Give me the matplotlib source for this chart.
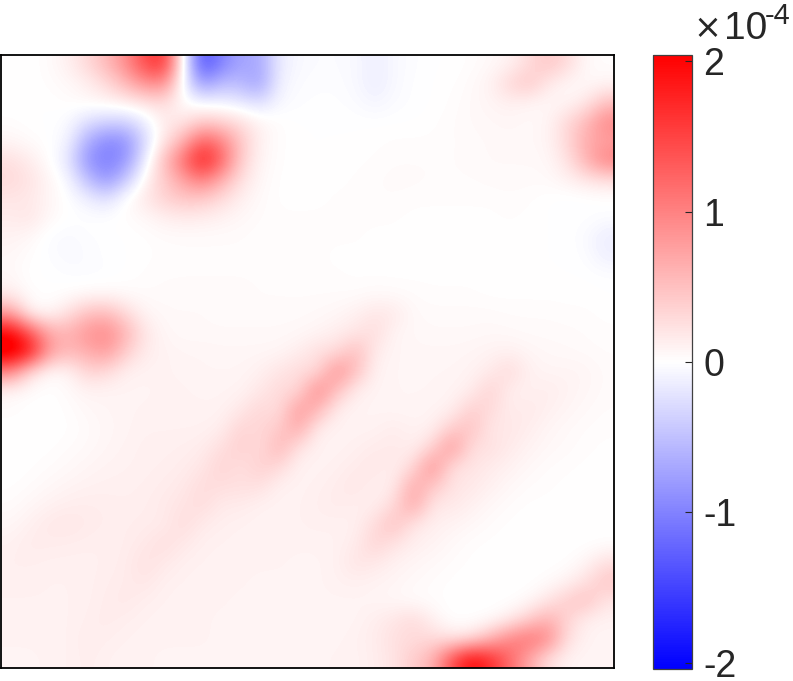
import numpy as np
import matplotlib
matplotlib.use("Agg")
import matplotlib.pyplot as plt

plt.rcParams['font.family'] = ['Liberation Sans', 'DejaVu Sans']

W, H = 793, 681

# values, in units of 1e-6 (rows top to bottom)
field = [
    [0, 0, 3, 12, 30, 55, 90, 145, 165, 0, -140, -100, -70, -70, -15, -5, -3, -3, -5, -14, -5, -2, 0, 0, 2, 5, 10, 28, 45, 30, 5, 2],
    [0, 0, 2, 5, 12, 28, 55, 85, 90, -5, -80, -50, -55, -75, -10, -3, -2, -2, -5, -14, -5, -1, 0, 1, 4, 10, 32, 45, 18, 6, 5, 8],
    [0, 0, 0, 2, 5, 8, 12, 20, 28, 2, -5, -8, -15, -25, -5, -2, -1, -1, -3, -8, -3, -1, 0, 2, 5, 8, 12, 8, 6, 8, 18, 50],
    [2, 0, 0, -3, -25, -35, -35, -15, 15, 20, 40, 35, 25, 10, 2, 0, 0, 0, 0, 0, 0, 0, 1, 3, 5, 6, 7, 5, 8, 30, 55, 95],
    [8, 3, 0, -8, -65, -95, -90, -30, 20, 60, 130, 100, 45, 10, 2, 0, 0, 0, 0, 1, 2, 2, 2, 3, 4, 5, 6, 6, 8, 30, 65, 75],
    [25, 15, 2, -18, -85, -105, -85, -15, 50, 115, 185, 125, 40, 8, 2, 0, 0, 0, 1, 2, 3, 3, 3, 3, 4, 5, 5, 5, 6, 22, 60, 100],
    [30, 22, 8, -5, -50, -85, -45, 8, 40, 75, 105, 65, 25, 6, 1, 0, 1, 1, 2, 3, 4, 4, 3, 3, 3, 4, 4, 4, 4, 10, 20, 25],
    [20, 18, 8, 0, -12, -25, 2, 18, 35, 45, 42, 28, 12, 4, 1, 1, 1, 2, 2, 3, 3, 2, 2, 2, 2, 2, 3, 2, 0, -2, -2, 0],
    [15, 20, 6, 0, 0, 0, 2, 5, 12, 15, 14, 10, 6, 3, 2, 2, 2, 2, 2, 2, 2, 1, 1, 1, 1, 1, 2, 1, 0, -1, 0, -2],
    [10, 6, -3, -5, -2, -1, 0, 1, 3, 3, 3, 3, 3, 2, 2, 2, 2, 2, 2, 1, 1, 0, 0, 0, 0, 0, 1, 0, 0, 0, -4, -15],
    [6, 2, -2, -5, -3, -1, 0, 1, 2, 3, 3, 3, 3, 3, 2, 2, 2, 1, 1, 1, 0, 0, 0, 0, 0, 0, 0, 0, 0, 0, -2, -12],
    [6, 0, 0, -2, -3, -2, 0, 2, 3, 3, 3, 3, 3, 3, 3, 2, 2, 2, 1, 1, 1, 1, 1, 1, 1, 0, 0, 0, 0, 0, 0, -1],
    [15, 2, 0, 2, 5, 6, 4, 3, 4, 4, 4, 4, 4, 3, 3, 3, 3, 3, 3, 5, 4, 3, 2, 2, 2, 1, 1, 1, 1, 1, 1, 0],
    [80, 10, 5, 25, 50, 55, 30, 9, 5, 5, 5, 4, 4, 4, 4, 4, 5, 7, 12, 20, 18, 5, 4, 4, 4, 4, 3, 3, 3, 2, 2, 1],
    [205, 140, 70, 60, 85, 95, 60, 20, 7, 5, 5, 5, 5, 5, 5, 6, 9, 14, 20, 28, 8, 6, 5, 5, 5, 6, 5, 4, 4, 4, 3, 2],
    [230, 190, 80, 55, 65, 80, 40, 15, 10, 8, 8, 7, 7, 7, 8, 14, 25, 28, 55, 15, 8, 7, 7, 7, 8, 10, 12, 8, 6, 5, 4, 3],
    [100, 30, 5, 8, 35, 30, 12, 10, 10, 9, 8, 8, 8, 12, 20, 28, 28, 90, 50, 10, 8, 7, 8, 8, 10, 16, 30, 12, 8, 9, 8, 4],
    [8, 3, 0, 4, 10, 9, 9, 9, 10, 10, 9, 9, 10, 18, 30, 28, 95, 50, 14, 9, 8, 8, 8, 9, 14, 36, 14, 11, 15, 10, 7, 4],
    [3, 0, 0, 2, 6, 8, 9, 10, 10, 10, 10, 10, 18, 32, 24, 80, 60, 14, 9, 9, 8, 8, 9, 12, 38, 30, 14, 18, 12, 8, 5, 3],
    [0, 0, 0, 1, 4, 7, 9, 11, 11, 11, 11, 14, 35, 30, 42, 70, 14, 10, 10, 10, 15, 10, 12, 40, 50, 18, 20, 14, 8, 5, 3, 2],
    [0, 0, 1, 3, 5, 8, 10, 12, 12, 13, 15, 26, 38, 26, 60, 22, 10, 10, 12, 16, 18, 12, 35, 85, 25, 25, 16, 10, 6, 4, 2, 1],
    [0, 1, 3, 5, 8, 10, 11, 12, 13, 15, 20, 35, 24, 38, 30, 10, 10, 12, 16, 20, 12, 30, 90, 25, 22, 16, 11, 6, 3, 2, 1, 1],
    [1, 3, 6, 9, 11, 12, 12, 13, 15, 18, 28, 26, 25, 25, 11, 10, 12, 15, 20, 12, 15, 70, 45, 22, 18, 12, 6, 3, 2, 1, 0, 0],
    [3, 7, 11, 14, 15, 14, 13, 14, 17, 22, 28, 16, 16, 11, 10, 11, 13, 16, 13, 13, 30, 72, 18, 18, 12, 6, 3, 1, 1, 0, 0, 0],
    [7, 12, 18, 20, 16, 14, 14, 15, 16, 28, 16, 13, 11, 10, 10, 11, 12, 11, 12, 28, 50, 20, 13, 10, 6, 3, 1, 0, 0, 0, 0, 0],
    [11, 16, 15, 14, 13, 13, 14, 18, 26, 18, 12, 11, 10, 10, 10, 10, 10, 11, 15, 35, 22, 13, 10, 5, 2, 1, 0, 0, 0, 0, 0, 1],
    [13, 13, 12, 12, 12, 13, 15, 24, 18, 12, 11, 10, 10, 10, 10, 9, 9, 11, 22, 18, 11, 8, 5, 3, 1, 0, 0, 0, 0, 1, 8, 25],
    [12, 12, 11, 11, 12, 14, 16, 20, 12, 11, 10, 10, 10, 9, 9, 9, 9, 11, 12, 10, 8, 5, 3, 1, 0, 0, 0, 0, 3, 10, 25, 45],
    [11, 11, 11, 11, 12, 15, 18, 13, 11, 10, 10, 10, 9, 9, 9, 9, 9, 9, 9, 8, 6, 3, 2, 0, 0, 0, 0, 5, 20, 40, 50, 20],
    [10, 10, 10, 11, 13, 16, 13, 11, 10, 10, 10, 9, 9, 9, 9, 9, 9, 8, 9, 14, 20, 30, 12, 0, 0, 3, 15, 40, 65, 35, 12, 10],
    [10, 10, 10, 11, 15, 13, 11, 10, 10, 10, 10, 9, 9, 9, 9, 9, 9, 9, 11, 15, 25, 28, 30, 20, 25, 60, 100, 115, 95, 25, 10, 8],
    [9, 9, 10, 11, 14, 11, 10, 10, 9, 9, 9, 9, 9, 9, 9, 9, 9, 10, 10, 14, 22, 40, 60, 140, 200, 170, 120, 70, 25, 10, 8, 8],
]

cbar_ticks = [-2, -1, 0, 1, 2]
cbar_labels = ['-2', '-1', '0', '1', '2']

fig = plt.figure(figsize=(W / 100, H / 100), dpi=100)

# pixel boxes
ax = fig.add_axes([1 / W, 1 - 668 / H, 613 / W, 613 / H])
im = ax.imshow(np.array(field) / 100, cmap='bwr', vmin=-2.04, vmax=2.04,
               interpolation='bicubic', aspect='auto')
ax.set_xticks([])
ax.set_yticks([])
for s in ax.spines.values():
    s.set_linewidth(1.3)
    s.set_color('black')

cax = fig.add_axes([652.5 / W, 1 - 669 / H, 39.5 / W, 614 / H])
cb = fig.colorbar(im, cax=cax)
cb.set_ticks(cbar_ticks)
cb.set_ticklabels(cbar_labels)
cb.ax.tick_params(direction='in', length=5, width=0.8, color='#262626',
                  labelsize=27, labelcolor='#262626', pad=8)
cb.outline.set_linewidth(0.9)
cb.outline.set_edgecolor('#404040')

fig.text(693 / W, 1 - 38 / H, '×', fontsize=24, color='#262626', family='DejaVu Sans')
fig.text(724 / W, 1 - 39 / H, '10', fontsize=28, color='#262626')
fig.text(765 / W, 1 - 24 / H, '-4', fontsize=21, color='#262626')

fig.savefig('out.png', dpi=100)
